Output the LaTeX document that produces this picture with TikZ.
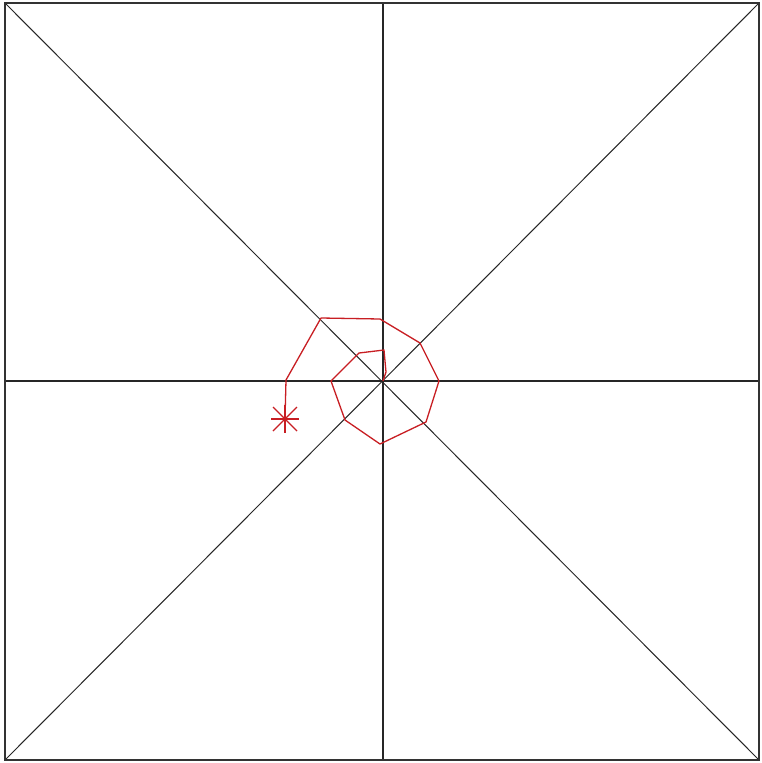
\documentclass[tikz,border=0pt]{standalone}
\usetikzlibrary{calc}
\definecolor{pathred}{RGB}{200,30,35}
\begin{document}
\begin{tikzpicture}[x=1pt,y=-1pt,
  axisline/.style={black!85,line width=1.2pt},
  diagline/.style={black!85,line width=1pt},
  frameline/.style={black!80,line width=1.8pt},
  redline/.style={pathred,line width=1.3pt,line join=round}]
\useasboundingbox[fill=white] (0,0) rectangle (761,763);
\coordinate (tl) at (5,3);
\coordinate (tr) at (759,3);
\coordinate (bl) at (5,760);
\coordinate (br) at (759,760);
\coordinate (c) at (383,381);
\coordinate (t) at (383,3);
\coordinate (b) at (383,760);
\coordinate (l) at (5,381);
\coordinate (r) at (759,381);
\draw[diagline] (tl) -- (br);
\draw[diagline] (bl) -- (tr);
\draw[axisline] (t) -- (b);
\draw[axisline] (l) -- (r);
\draw[frameline] (tl) rectangle (br);
% red trajectory
\coordinate (s) at (285,419);
\draw[redline] (s) -- (286,380) -- (321,318) -- (380,319) -- (420,343) -- (439,381)
  -- (426,422) -- (380,444) -- (345,420) -- (331,381) -- (359,353) -- (384,350)
  -- (386,372) -- (c);
% star marker
\draw[redline] ($(s)+(-14,0)$) -- ($(s)+(14,0)$);
\draw[redline] ($(s)+(0,-14)$) -- ($(s)+(0,14)$);
\draw[redline] ($(s)+(-12,-12)$) -- ($(s)+(12,12)$);
\draw[redline] ($(s)+(-12,12)$) -- ($(s)+(12,-12)$);
\end{tikzpicture}
\end{document}
